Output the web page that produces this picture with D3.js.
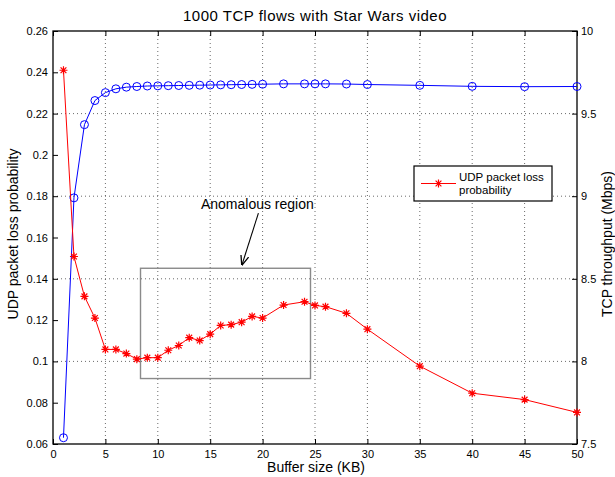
<!DOCTYPE html>
<html>
<head>
<meta charset="utf-8">
<script src="https://cdn.jsdelivr.net/npm/d3@7"></script>
<style>
  body { margin: 0; background: #fff; }
  svg { font-family: "Liberation Sans", Arial, Helvetica, sans-serif; }
</style>
</head>
<body>
<div id="chart"></div>
<script>
// Buffer sizes (KB)
const buffer = [1, 2, 3, 4, 5, 6, 7, 8, 9, 10, 11, 12, 13, 14, 15, 16, 17, 18, 19, 20,
  22, 24, 25, 26, 28, 30, 35, 40, 45, 50];

// UDP packet loss probability (left axis)
const udpLoss = [0.241, 0.1508, 0.1315, 0.121, 0.1058, 0.1058, 0.1038, 0.1011, 0.1018, 0.1018,
  0.1054, 0.1077, 0.1115, 0.1101, 0.1132, 0.1174, 0.1178, 0.119, 0.1218, 0.121,
  0.1273, 0.1289, 0.1271, 0.1265, 0.1233, 0.1156, 0.0977, 0.0846, 0.0815, 0.0753];

// TCP throughput in Mbps (right axis)
const tcpThroughput = [7.538, 8.99, 9.433, 9.579, 9.627, 9.65, 9.66, 9.664, 9.667, 9.668,
  9.669, 9.67, 9.671, 9.672, 9.673, 9.674, 9.675, 9.676, 9.677, 9.678,
  9.68, 9.68, 9.68, 9.68, 9.679, 9.676, 9.671, 9.665, 9.663, 9.664];

// tick values
const xTicks = [0, 5, 10, 15, 20, 25, 30, 35, 40, 45, 50];
const leftTicks = [0.06, 0.08, 0.1, 0.12, 0.14, 0.16, 0.18, 0.2, 0.22, 0.24, 0.26];
const rightTicks = [7.5, 8, 8.5, 9, 9.5, 10];

// annotation box in data coords [x0, x1, yTop, yBottom]
const anomalyBox = [8.35, 24.57, 0.1451, 0.0917];

// set the dimensions and margins of the graph
const W = 615, H = 477;
const margin = {top: 31, right: 38, bottom: 33, left: 53};
const width = W - margin.left - margin.right,
  height = H - margin.top - margin.bottom;

const svg = d3.select("#chart")
  .append("svg")
    .attr("width", W)
    .attr("height", H);

const g = svg.append("g")
  .attr("transform", `translate(${margin.left},${margin.top})`);

const x = d3.scaleLinear().domain([0, 50]).range([0, width]);
const yL = d3.scaleLinear().domain([0.06, 0.26]).range([height, 0]);
const yR = d3.scaleLinear().domain([7.5, 10]).range([height, 0]);

// dotted grid
const grid = g.append("g").attr("class", "grid");
grid.selectAll(".vg")
  .data(xTicks.slice(1, -1))
  .join("line")
    .attr("x1", d => x(d)).attr("x2", d => x(d))
    .attr("y1", 0).attr("y2", height);
grid.selectAll(".hg")
  .data(rightTicks.slice(1, -1))
  .join("line")
    .attr("x1", 0).attr("x2", width)
    .attr("y1", d => yR(d)).attr("y2", d => yR(d));
grid.selectAll("line")
  .attr("stroke", "#444")
  .attr("stroke-width", 0.8)
  .attr("stroke-dasharray", "1,3");

// axes, ticks pointing inside like matlab
function styleAxis(sel) {
  sel.select(".domain").remove();
  sel.selectAll(".tick line").attr("stroke", "#000");
  sel.selectAll(".tick text").attr("fill", "#000").style("font-size", "11px");
}
g.append("g")
  .attr("transform", `translate(0,${height})`)
  .call(d3.axisBottom(x).tickValues(xTicks).tickSize(-5).tickPadding(6))
  .call(styleAxis);
g.append("g")
  .call(d3.axisTop(x).tickValues(xTicks).tickSize(-5).tickFormat(""))
  .call(styleAxis);
g.append("g")
  .call(d3.axisLeft(yL).tickValues(leftTicks).tickSize(-5).tickPadding(5).tickFormat(d3.format("~g")))
  .call(styleAxis);
g.append("g")
  .attr("transform", `translate(${width},0)`)
  .call(d3.axisRight(yR).tickValues(rightTicks).tickSize(-5).tickPadding(4).tickFormat(d3.format("~g")))
  .call(styleAxis);

// box
g.append("rect")
  .attr("width", width).attr("height", height)
  .attr("fill", "none").attr("stroke", "#000").attr("stroke-width", 1.3);

// anomaly box
g.append("rect")
  .attr("x", x(anomalyBox[0]))
  .attr("y", yL(anomalyBox[2]))
  .attr("width", x(anomalyBox[1]) - x(anomalyBox[0]))
  .attr("height", yL(anomalyBox[3]) - yL(anomalyBox[2]))
  .attr("fill", "none").attr("stroke", "#8a8a8a").attr("stroke-width", 1.4);

// arrow
svg.append("defs").append("marker")
  .attr("id", "head")
  .attr("viewBox", "0 0 10 10")
  .attr("refX", 9).attr("refY", 5)
  .attr("markerWidth", 10).attr("markerHeight", 10)
  .attr("markerUnits", "userSpaceOnUse")
  .attr("orient", "auto")
  .append("path")
    .attr("d", "M0,1 L10,5 L0,9")
    .attr("fill", "none").attr("stroke", "#000").attr("stroke-width", 1.3);
g.append("line")
  .attr("x1", x(19.6)).attr("y1", yL(0.1718))
  .attr("x2", x(18.04)).attr("y2", yL(0.1469))
  .attr("stroke", "#000").attr("stroke-width", 1.1)
  .attr("marker-end", "url(#head)");
g.append("text")
  .attr("x", x(19.5)).attr("y", yL(0.1736))
  .attr("text-anchor", "middle")
  .style("font-size", "14px")
  .text("Anomalous region");

// blue TCP line
const lineR = d3.line().x((d, i) => x(buffer[i])).y(d => yR(d));
g.append("path")
  .datum(tcpThroughput)
  .attr("d", lineR)
  .attr("fill", "none").attr("stroke", "#0000ff").attr("stroke-width", 1);
g.selectAll(".circ")
  .data(tcpThroughput)
  .join("circle")
    .attr("cx", (d, i) => x(buffer[i]))
    .attr("cy", d => yR(d))
    .attr("r", 4)
    .attr("fill", "none").attr("stroke", "#0000ff").attr("stroke-width", 1);

// red UDP line
const lineL = d3.line().x((d, i) => x(buffer[i])).y(d => yL(d));
g.append("path")
  .datum(udpLoss)
  .attr("d", lineL)
  .attr("fill", "none").attr("stroke", "#ff0000").attr("stroke-width", 1);

const star = "M-4,0L4,0M0,-4L0,4M-2.9,-2.9L2.9,2.9M-2.9,2.9L2.9,-2.9";
g.selectAll(".star")
  .data(udpLoss)
  .join("path")
    .attr("transform", (d, i) => `translate(${x(buffer[i])},${yL(d)})`)
    .attr("d", star)
    .attr("stroke", "#ff0000").attr("stroke-width", 1.2);

// legend
const lg = svg.append("g").attr("transform", "translate(414,166)");
lg.append("rect")
  .attr("width", 138).attr("height", 35)
  .attr("fill", "#fff").attr("stroke", "#000").attr("stroke-width", 1.2);
lg.append("line")
  .attr("x1", 7).attr("x2", 42).attr("y1", 17.5).attr("y2", 17.5)
  .attr("stroke", "#ff0000").attr("stroke-width", 1);
lg.append("path")
  .attr("transform", "translate(24.5,17.5)")
  .attr("d", star)
  .attr("stroke", "#ff0000").attr("stroke-width", 1.2);
lg.append("text").attr("x", 45).attr("y", 15).style("font-size", "11.5px").text("UDP packet loss");
lg.append("text").attr("x", 45).attr("y", 27.5).style("font-size", "11.5px").text("probability");

// title and axis labels
svg.append("text")
  .attr("x", margin.left + width / 2).attr("y", 21)
  .attr("text-anchor", "middle")
  .style("font-size", "15px")
  .style("letter-spacing", "0.5px")
  .text("1000 TCP flows with Star Wars video");
svg.append("text")
  .attr("x", margin.left + width / 2 + 1).attr("y", 472)
  .attr("text-anchor", "middle")
  .style("font-size", "14px")
  .text("Buffer size (KB)");
svg.append("text")
  .attr("transform", "translate(17.5,234) rotate(-90)")
  .attr("text-anchor", "middle")
  .style("font-size", "14px")
  .text("UDP packet loss probability");
svg.append("text")
  .attr("transform", "translate(612,244) rotate(-90)")
  .attr("text-anchor", "middle")
  .style("font-size", "14px")
  .text("TCP throughput (Mbps)");
</script>
</body>
</html>
